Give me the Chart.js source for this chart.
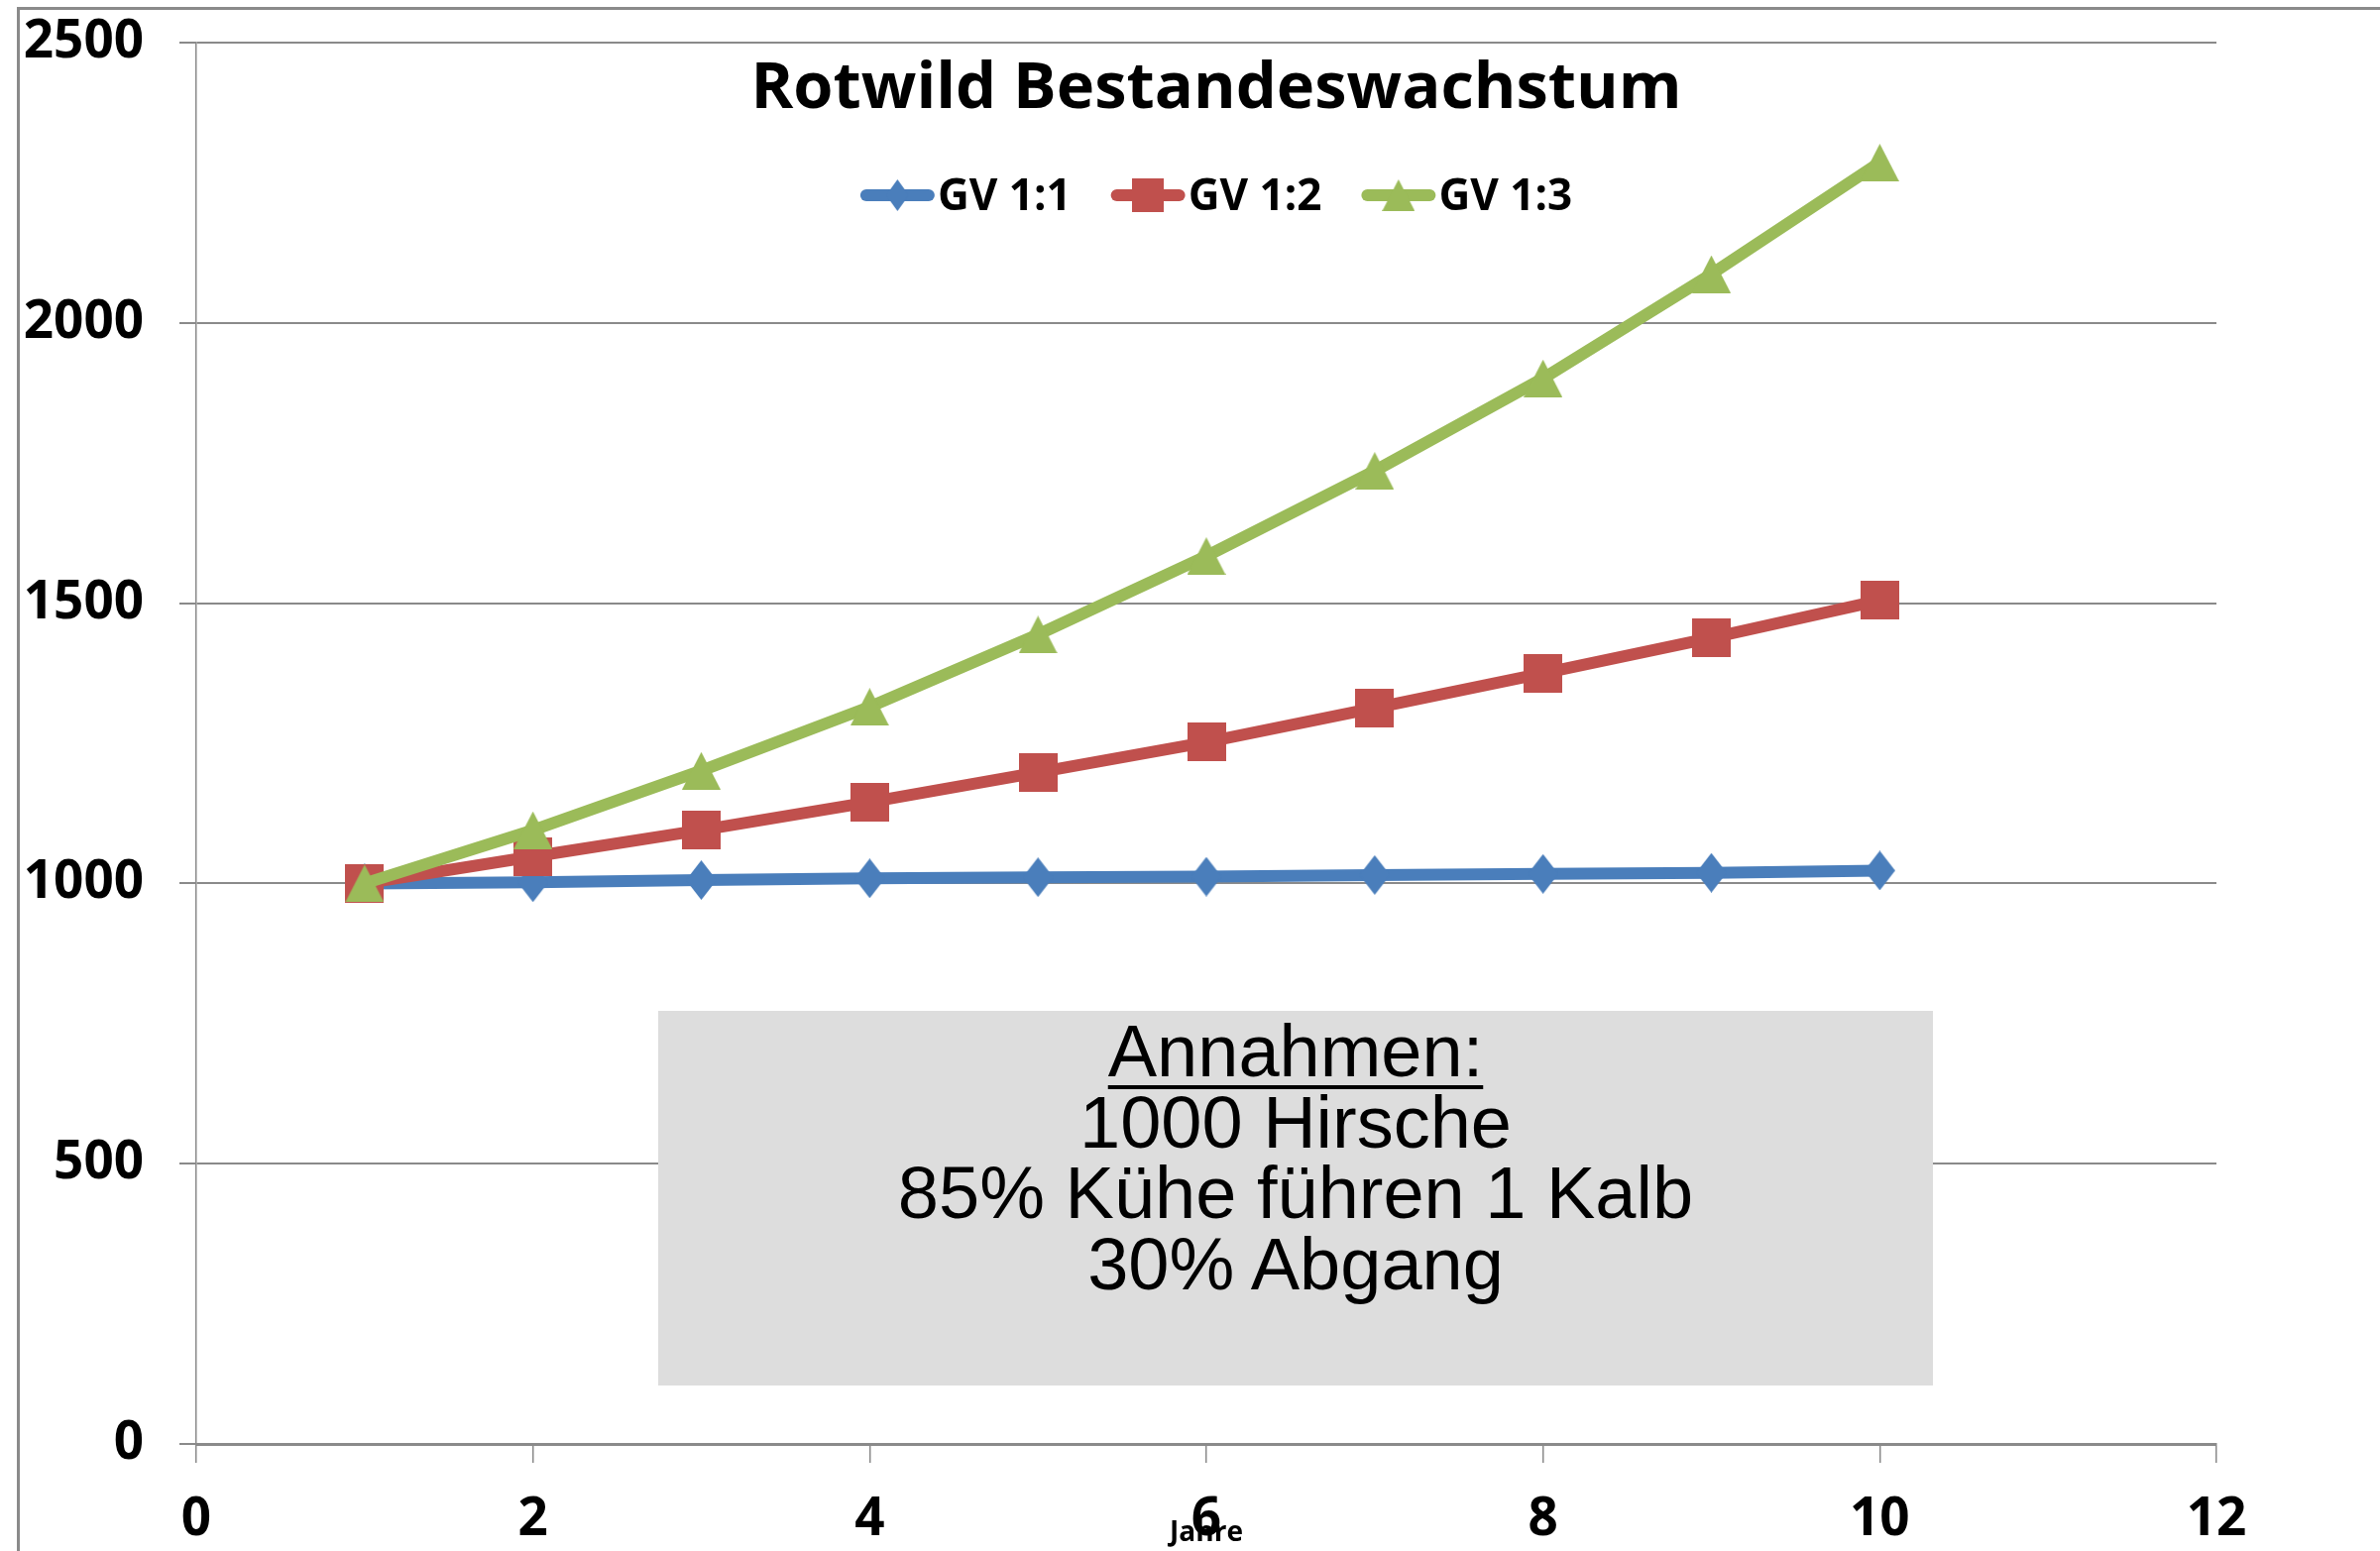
<!DOCTYPE html>
<html lang="de">
<head>
    <meta charset="UTF-8">
    <title>Rotwild Bestandeswachstum</title>
    <script src="https://cdn.jsdelivr.net/npm/chart.js"></script>
    <style>
        body {
            margin: 0;
            background: #fff;
            width: 2401px;
            height: 1565px;
            overflow: hidden;
            position: relative;
            font-family: 'Open Sans', sans-serif;
        }
        .frame {
            position: absolute;
            left: 17px;
            top: 7px;
            width: 2500px;
            height: 1700px;
            border-left: 3px solid #8a8a8a;
            border-top: 3px solid #8a8a8a;
        }
        .chart-box {
            position: absolute;
            left: 0;
            top: 0;
            width: 2401px;
            height: 1565px;
        }
        .note {
            position: absolute;
            left: 664px;
            top: 1020px;
            width: 1286px;
            height: 378px;
            box-sizing: border-box;
            padding-top: 5px;
            background: #dddddd;
            color: #000;
            text-align: center;
            font-family: 'Liberation Sans', Arial, sans-serif;
            font-size: 74px;
            line-height: 71.5px;
        }
        .note u {
            text-decoration-thickness: 4px;
            text-underline-offset: 9px;
        }
    </style>
</head>
<body>
    <div class="frame"></div>
    <div class="chart-box"><canvas id="growthChart"></canvas></div>
    <div class="note">
        <u>Annahmen:</u><br>
        1000 Hirsche<br>
        85% Kühe führen 1 Kalb<br>
        30% Abgang
    </div>

    <script>
        // values
        const years = [1, 2, 3, 4, 5, 6, 7, 8, 9, 10];
        const gv11 = [1000, 1002, 1006, 1009, 1011, 1012, 1015, 1017, 1019, 1023];
        const gv12 = [1000, 1048, 1095, 1145, 1198, 1252, 1313, 1375, 1438, 1505];
        const gv13 = [1000, 1095, 1201, 1315, 1444, 1584, 1736, 1901, 2087, 2286];
        const seriesNames = ['GV 1:1', 'GV 1:2', 'GV 1:3'];
        const seriesColors = ['#4a7ebb', '#c0504d', '#9bbb59'];
        const xMin = 0, xMax = 12, xStep = 2;
        const yMin = 0, yMax = 2500, yStep = 500;
        const chartTitle = 'Rotwild Bestandeswachstum';
        const xTitle = 'Jahre';

        const axisFont = { family: 'Open Sans', weight: 'bold', size: 53 };
        const gridGray = '#8a8a8a';

        // excel-like marker shapes
        function makeMarker(shape, w, h, color) {
            const c = document.createElement('canvas');
            c.width = w;
            c.height = h;
            const g = c.getContext('2d');
            g.fillStyle = color;
            g.beginPath();
            if (shape === 'diamond') {
                g.moveTo(w / 2, 0); g.lineTo(w, h / 2); g.lineTo(w / 2, h); g.lineTo(0, h / 2);
            } else if (shape === 'square') {
                g.rect(0, 0, w, h);
            } else {
                g.moveTo(w / 2, 0); g.lineTo(w, h); g.lineTo(0, h);
            }
            g.closePath();
            g.fill();
            return c;
        }

        const pointMarkers = [
            makeMarker('diamond', 31, 40, seriesColors[0]),
            makeMarker('square', 39, 39, seriesColors[1]),
            makeMarker('triangle', 39, 38, seriesColors[2])
        ];
        const legendMarkers = [
            makeMarker('diamond', 23, 32, seriesColors[0]),
            makeMarker('square', 32, 34, seriesColors[1]),
            makeMarker('triangle', 33, 32, seriesColors[2])
        ];

        const toPoints = vals => years.map((yr, i) => ({ x: yr, y: vals[i] }));

        // title, legend and axis name sit inside the plot, so draw them by hand
        const overlayText = {
            id: 'overlayText',
            afterDraw(chart) {
                const { ctx, chartArea } = chart;
                const mid = (chartArea.left + chartArea.right) / 2;
                const cx = mid + 10;
                ctx.save();
                ctx.fillStyle = '#000';
                ctx.textAlign = 'center';
                ctx.textBaseline = 'alphabetic';
                ctx.font = 'bold 65px "Open Sans"';
                ctx.fillText(chartTitle, cx, chartArea.top + 66);

                // legend
                ctx.font = 'bold 44px "Open Sans"';
                const sample = 75, gap = 40, textGap = 3;
                const sets = chart.data.datasets;
                const widths = sets.map(d => ctx.measureText(d.label).width);
                const total = widths.reduce((a, w) => a + sample + textGap + w, 0) + gap * (sets.length - 1);
                let x = cx - total / 2;
                const ly = chartArea.top + 154;
                ctx.textAlign = 'left';
                ctx.textBaseline = 'middle';
                sets.forEach((d, i) => {
                    ctx.strokeStyle = d.borderColor;
                    ctx.lineWidth = 12;
                    ctx.lineCap = 'round';
                    ctx.beginPath();
                    ctx.moveTo(x + 6, ly);
                    ctx.lineTo(x + sample - 6, ly);
                    ctx.stroke();
                    const img = legendMarkers[i];
                    ctx.drawImage(img, x + sample / 2 - img.width / 2, ly - img.height / 2);
                    ctx.fillStyle = '#000';
                    ctx.fillText(d.label, x + sample + textGap, ly + 2);
                    x += sample + textGap + widths[i] + gap;
                });

                // x axis name, overlapping the "6" like in the original
                ctx.font = 'bold 28px "Open Sans"';
                ctx.textAlign = 'center';
                ctx.fillText(xTitle, mid, chartArea.bottom + 90);
                ctx.restore();
            }
        };

        const lineStyle = (i, vals, order) => ({
            label: seriesNames[i],
            data: toPoints(vals),
            borderColor: seriesColors[i],
            backgroundColor: seriesColors[i],
            borderWidth: 12,
            borderJoinStyle: 'round',
            pointStyle: pointMarkers[i],
            pointRadius: 19,
            pointHoverRadius: 19,
            tension: 0,
            order: order
        });

        new Chart(document.getElementById('growthChart'), {
            type: 'line',
            data: {
                datasets: [
                    lineStyle(0, gv11, 3),
                    lineStyle(1, gv12, 2),
                    lineStyle(2, gv13, 1)
                ]
            },
            options: {
                responsive: true,
                maintainAspectRatio: false,
                animation: false,
                layout: { padding: { top: 43, right: 165, bottom: 0, left: 0 } },
                plugins: {
                    legend: { display: false },
                    title: { display: false },
                    tooltip: { enabled: false }
                },
                scales: {
                    x: {
                        type: 'linear',
                        min: xMin,
                        max: xMax,
                        ticks: {
                            stepSize: xStep,
                            color: '#000',
                            font: axisFont,
                            padding: 26,
                            maxRotation: 0,
                            autoSkip: false,
                            callback: v => String(v)
                        },
                        grid: {
                            drawOnChartArea: false,
                            drawTicks: true,
                            tickLength: 19,
                            color: gridGray,
                            lineWidth: 1.5
                        },
                        border: { display: true, color: gridGray, width: 3 },
                        afterFit: s => { s.height = 108; }
                    },
                    y: {
                        min: yMin,
                        max: yMax,
                        ticks: {
                            stepSize: yStep,
                            color: '#000',
                            font: axisFont,
                            padding: 36,
                            callback: v => String(v)
                        },
                        grid: {
                            color: gridGray,
                            lineWidth: 2,
                            tickLength: 17
                        },
                        border: { display: true, color: gridGray, width: 1.5 },
                        afterFit: s => {
                            s.width = 198;
                            // label overhang is covered by the layout padding
                            s.paddingTop = 0;
                            s.paddingBottom = 0;
                        }
                    }
                }
            },
            plugins: [overlayText]
        });
    </script>
</body>
</html>
